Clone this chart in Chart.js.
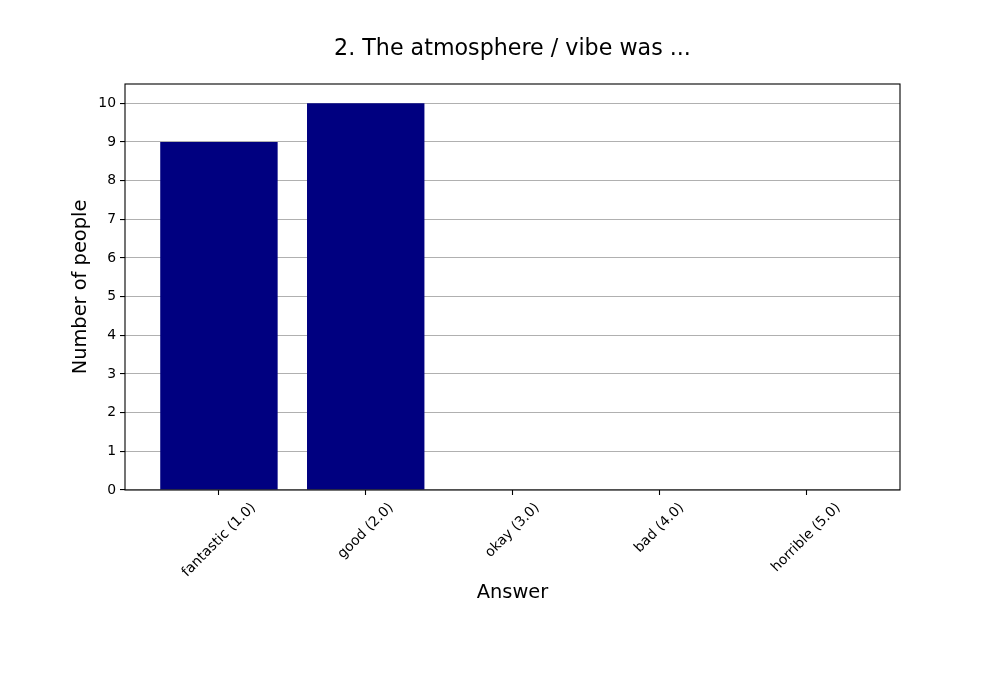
<!DOCTYPE html>
<html>
<head>
<meta charset="utf-8">
<script src="https://cdn.jsdelivr.net/npm/chart.js@4.4.0/dist/chart.umd.min.js"></script>
<style>
html,body{margin:0;padding:0;background:#fff;}
#wrap{width:1000px;height:700px;position:relative;}
</style>
</head>
<body>
<div id="wrap"><canvas id="c"></canvas></div>
<script>
const categories = ["fantastic (1.0)", "good (2.0)", "okay (3.0)", "bad (4.0)", "horrible (5.0)"];
const counts = [9, 10, 0, 0, 0];
const yTicks = [0,1,2,3,4,5,6,7,8,9,10];
const titleText = "2. The atmosphere / vibe was ...";
const xLabel = "Answer";
const yLabel = "Number of people";

const FONT = "'DejaVu Sans', sans-serif";

const textPlugin = {
  id: 'textPlugin',
  afterDraw(chart) {
    const ctx = chart.ctx;
    const ca = chart.chartArea;
    const xs = chart.scales.x;
    ctx.save();
    // frame
    ctx.strokeStyle = '#000';
    ctx.lineWidth = 1.1;
    ctx.strokeRect(ca.left, ca.top, ca.right - ca.left, ca.bottom - ca.top);
    ctx.fillStyle = '#000';
    const cx = (ca.left + ca.right) / 2;
    // title
    ctx.font = "22.2px " + FONT;
    ctx.textAlign = 'center';
    ctx.textBaseline = 'middle';
    ctx.fillText(titleText, cx, 49);
    // x label
    ctx.font = "19.4px " + FONT;
    ctx.fillText(xLabel, cx, 593);
    // y label
    ctx.save();
    ctx.translate(81, (ca.top + ca.bottom) / 2);
    ctx.rotate(-Math.PI / 2);
    ctx.fillText(yLabel, 0, 0);
    ctx.restore();
    // x tick labels rotated 45, centered
    ctx.font = "13.9px " + FONT;
    const h = 13.9 * 1.16;
    categories.forEach((lab, i) => {
      const px = xs.getPixelForValue(i);
      const w = ctx.measureText(lab).width;
      const H = (w + h) * Math.SQRT1_2;
      const cy = ca.bottom + 4.9 + 4.9 + H / 2;
      ctx.save();
      ctx.translate(px, cy);
      ctx.rotate(-Math.PI / 4);
      ctx.textAlign = 'center';
      ctx.textBaseline = 'middle';
      ctx.fillText(lab, 0, 0);
      ctx.restore();
    });
    ctx.restore();
  }
};

new Chart(document.getElementById('c'), {
  type: 'bar',
  data: {
    datasets: [{
      data: counts.map((v, i) => ({x: i, y: v})),
      backgroundColor: '#000080',
      borderWidth: 0,
      barPercentage: 0.8,
      categoryPercentage: 1.0
    }]
  },
  options: {
    responsive: true,
    maintainAspectRatio: false,
    animation: false,
    devicePixelRatio: 1,
    layout: { padding: { top: 84, right: 100, left: 0, bottom: 0 } },
    plugins: { legend: { display: false }, title: { display: false }, tooltip: { enabled: false } },
    scales: {
      x: {
        type: 'linear',
        min: -0.64,
        max: 4.64,
        offset: false,
        afterBuildTicks: (s) => { s.ticks = categories.map((c, i) => ({ value: i })); },
        afterFit: (s) => { s.height = 210; },
        ticks: { display: false },
        grid: { offset: false, drawOnChartArea: false, drawTicks: true, tickLength: 5, tickColor: '#000', tickWidth: 1.1, color: '#000' },
        border: { display: false }
      },
      y: {
        min: 0,
        max: 10.5,
        afterBuildTicks: (s) => { s.ticks = yTicks.map(v => ({ value: v })); },
        afterFit: (s) => { s.width = 125; },
        ticks: { color: '#000', padding: 4, font: { family: FONT, size: 13.9 } },
        grid: { color: '#b0b0b0', lineWidth: 1.1, drawTicks: true, tickLength: 5, tickColor: '#000', tickWidth: 1.1 },
        border: { display: false }
      }
    }
  },
  plugins: [textPlugin]
});
</script>
</body>
</html>
